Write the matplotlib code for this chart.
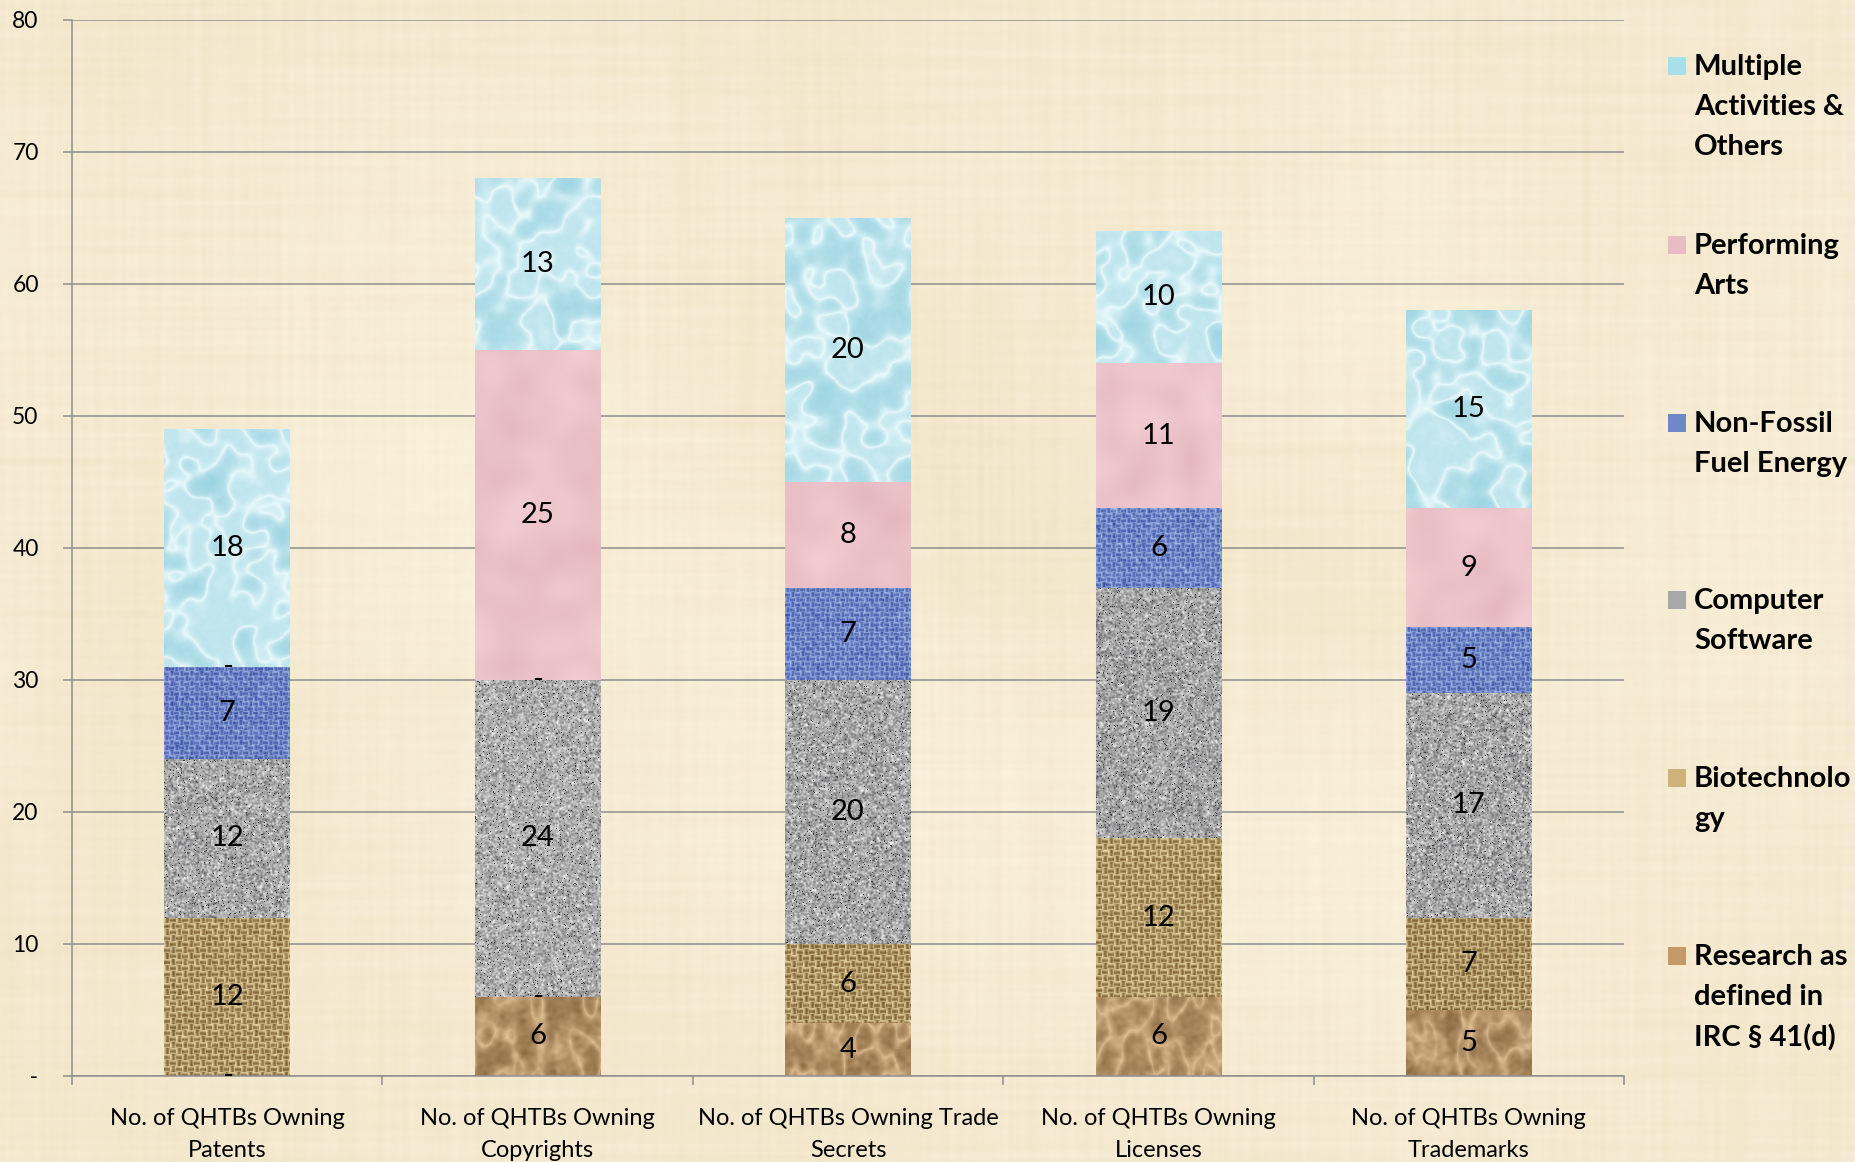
import numpy as np
import matplotlib
matplotlib.use("Agg")
import matplotlib.pyplot as plt
from matplotlib.patches import Rectangle

# --- data ---
categories = ["No. of QHTBs Owning\nPatents", "No. of QHTBs Owning\nCopyrights",
              "No. of QHTBs Owning Trade\nSecrets", "No. of QHTBs Owning\nLicenses",
              "No. of QHTBs Owning\nTrademarks"]
series_names = ["Research as\ndefined in\nIRC § 41(d)", "Biotechnolo\ngy", "Computer\nSoftware",
                "Non-Fossil\nFuel Energy", "Performing\nArts", "Multiple\nActivities &\nOthers"]
research = [0, 6, 4, 6, 5]
biotech = [12, 0, 6, 12, 7]
software = [12, 24, 20, 19, 17]
non_fossil = [7, 0, 7, 6, 5]
performing = [0, 25, 8, 11, 9]
multiple = [18, 13, 20, 10, 15]
y_ticks = [0, 10, 20, 30, 40, 50, 60, 70, 80]
y_tick_labels = ["   -", "10", "20", "30", "40", "50", "60", "70", "80"]

FONT = "Lato"
W, H = 1856, 1162
rng = np.random.default_rng(11)


# --- texture helpers (styling only) ---
def blur(a, sy, sx=None):
    sx = sy if sx is None else sx
    h, w = a.shape
    fy = np.fft.fftfreq(h)[:, None]
    fx = np.fft.fftfreq(w)[None, :]
    g = np.exp(-2 * np.pi ** 2 * ((sx * fx) ** 2 + (sy * fy) ** 2))
    return np.real(np.fft.ifft2(np.fft.fft2(a) * g))


def norm(a):
    a = a - a.min()
    return a / (a.max() + 1e-9)


def mix(t, dark, light):
    dark = np.array(dark) / 255.0
    light = np.array(light) / 255.0
    t = np.clip(t, 0, 1)[..., None]
    return dark + (light - dark) * t


def tex_paper(h, w):
    n1 = norm(blur(rng.normal(size=(h, w)), 9, 5))
    n2 = norm(blur(rng.normal(size=(h, w)), 2))
    ridge = 1 - 2 * np.abs(n1 - 0.5)
    t = 0.2 + 0.45 * ridge ** 3 + 0.35 * n2
    return mix(t, (115, 80, 42), (232, 200, 155))


def weave(h, w, period, noise_amt):
    yy, xx = np.mgrid[0:h, 0:w]
    warp = 0.5 + 0.5 * np.cos(2 * np.pi * xx / period)
    weft = 0.5 + 0.5 * np.cos(2 * np.pi * yy / period)
    check = ((xx // period) + (yy // period)) % 2 == 0
    t = np.where(check, warp, weft)
    n = norm(blur(rng.normal(size=(h, w)), 1.0))
    return (1 - noise_amt) * t + noise_amt * n


def tex_burlap(h, w):
    return mix(weave(h, w, 6, 0.45), (110, 80, 35), (240, 222, 172))


def tex_granite(h, w):
    n = norm(blur(rng.normal(size=(h, w)), 0.7))
    t = 0.15 + 0.95 * n
    t[rng.random((h, w)) < 0.03] = 0.05
    return mix(t, (55, 55, 58), (240, 240, 240))


def tex_blue(h, w):
    return mix(weave(h, w, 5, 0.55), (45, 70, 155), (175, 195, 240))


def tex_pink(h, w):
    n = norm(blur(rng.normal(size=(h, w)), 12))
    return mix(0.45 + 0.35 * n, (215, 160, 170), (248, 215, 220))


def tex_water(h, w):
    n1 = norm(blur(rng.normal(size=(h, w)), 7))
    n2 = norm(blur(rng.normal(size=(h, w)), 1.5))
    ridge = 1 - 2 * np.abs(n1 - 0.5)
    t = 0.35 + 0.35 * n1 + 0.4 * ridge ** 6 + 0.1 * n2
    return mix(t, (110, 190, 210), (235, 250, 252))


def tex_parchment(h, w):
    col = blur(rng.normal(size=(h, w)), 40, 0.8)
    row = blur(rng.normal(size=(h, w)), 0.8, 40)
    fine = blur(rng.normal(size=(h, w)), 1.0)
    big = blur(rng.normal(size=(h, w)), 60)
    t = 0.6 + 0.25 * norm(col) - 0.12 + 0.25 * norm(row) - 0.12 + 0.1 * norm(fine) + 0.3 * norm(big) - 0.15
    return mix(t, (232, 216, 180), (252, 244, 224))


series_vals = [research, biotech, software, non_fossil, performing, multiple]
textures = [tex_paper, tex_burlap, tex_granite, tex_blue, tex_pink, tex_water]
swatch = ["#c49a68", "#cdb27a", "#a8a8aa", "#6f88c8", "#e8bcc3", "#a9dfe9"]

# --- figure ---
fig = plt.figure(figsize=(W / 100, H / 100), dpi=100)
bg = fig.add_axes([0, 0, 1, 1], zorder=0)
bg.imshow(tex_parchment(H // 2, W // 2), aspect="auto", extent=(0, 1, 0, 1), interpolation="bilinear")
bg.axis("off")

ax_l, ax_r, ax_t, ax_b = 72, 1624, 20, 1076
ax = fig.add_axes([ax_l / W, 1 - ax_b / H, (ax_r - ax_l) / W, (ax_b - ax_t) / H], zorder=1)
ax.patch.set_alpha(0)
ax.set_xlim(-0.5, len(categories) - 0.5)
ax.set_ylim(0, 80)

x = np.arange(len(categories))
bottom = np.zeros(len(categories))
for vals, tex, col in zip(series_vals, textures, swatch):
    bars = ax.bar(x, vals, 0.405, bottom=bottom, color=col, edgecolor="none", zorder=2)
    for rect, v in zip(bars, vals):
        x0, y0 = rect.get_x(), rect.get_y()
        bw, bh = rect.get_width(), rect.get_height()
        if v > 0:
            p = ax.transData.transform([(x0, y0), (x0 + bw, y0 + bh)])
            pw = int(abs(p[1, 0] - p[0, 0])) + 2
            ph = int(abs(p[1, 1] - p[0, 1])) + 2
            im = ax.imshow(tex(ph, pw), extent=(x0, x0 + bw, y0, y0 + bh), aspect="auto",
                           interpolation="nearest", zorder=2.5)
            im.set_clip_path(rect)
            ax.text(x0 + bw / 2, y0 + bh / 2, str(v), ha="center", va="center",
                    fontsize=21, family=FONT, color="black", zorder=4)
        else:
            ax.text(x0 + bw / 2, y0, "-", ha="center", va="center",
                    fontsize=21, family=FONT, color="black", zorder=4)
    bottom += np.array(vals)

ax.set_xlim(-0.5, len(categories) - 0.5)
ax.set_ylim(0, 80)

# grid and spines
grid_c = "#8e8e8e"
ax.set_axisbelow(True)
ax.yaxis.grid(True, color=grid_c, linewidth=1.1)
for s in ["top", "right"]:
    ax.spines[s].set_visible(False)
for s in ["left", "bottom"]:
    ax.spines[s].set_color(grid_c)
    ax.spines[s].set_linewidth(1.1)
    ax.spines[s].set_zorder(3)

ax.set_yticks(y_ticks)
ax.set_yticklabels(y_tick_labels, family=FONT, fontsize=16.5)
ax.tick_params(axis="y", length=6.5, width=1.1, color=grid_c, pad=36.5)
for lab in ax.get_yticklabels():
    lab.set_horizontalalignment("left")

ax.set_xticks(np.arange(len(categories) + 1) - 0.5)
ax.set_xticklabels([])
ax.tick_params(axis="x", which="major", length=6.5, width=1.1, color=grid_c)
ax.set_xticks(x, minor=True)
ax.set_xticklabels(categories, minor=True, family=FONT, fontsize=17, linespacing=1.65)
ax.tick_params(axis="x", which="minor", length=0, pad=23)

# legend (drawn top to bottom, reversed series order)
leg_y = [66, 245, 423, 600, 778, 956]
for i, k in enumerate(range(len(series_names) - 1, -1, -1)):
    yc = leg_y[i]
    fig.patches.append(Rectangle(((1677 - 9) / W, 1 - (yc + 9) / H), 18 / W, 18 / H,
                                 transform=fig.transFigure, facecolor=swatch[k],
                                 edgecolor="none", zorder=3))
    fig.text(1694 / W, 1 - (yc - 12) / H, series_names[k], ha="left", va="top",
             fontsize=21, fontweight="bold", family=FONT, linespacing=1.66, zorder=3)

fig.savefig("out.png", dpi=100)
